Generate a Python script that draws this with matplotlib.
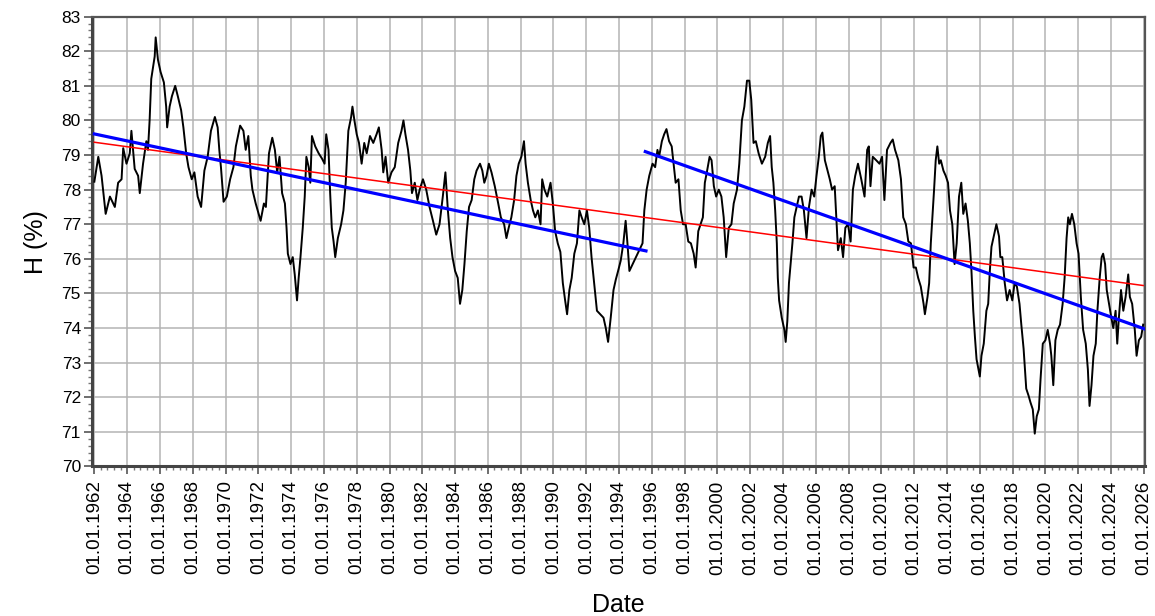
import matplotlib
matplotlib.use("Agg")
import matplotlib.pyplot as plt
from matplotlib.ticker import MultipleLocator, FuncFormatter

plt.rcParams['font.family'] = ['Liberation Sans', 'DejaVu Sans']

# ---- data (decimal year, H %) ----
years = [
    1962.00, 1962.24, 1962.44, 1962.69, 1962.95, 1963.25, 1963.45, 1963.66, 1963.76, 1963.96,
    1964.16, 1964.26, 1964.46, 1964.67, 1964.77, 1964.97, 1965.17, 1965.27, 1965.37, 1965.47,
    1965.68, 1965.74, 1965.88, 1966.04, 1966.24, 1966.38, 1966.44, 1966.59, 1966.73, 1966.93,
    1967.09, 1967.29, 1967.43, 1967.60, 1967.74, 1967.94, 1968.10, 1968.30, 1968.51, 1968.71,
    1968.91, 1969.11, 1969.35, 1969.52, 1969.62, 1969.72, 1969.88, 1970.08, 1970.28, 1970.48,
    1970.63, 1970.89, 1971.09, 1971.23, 1971.39, 1971.54, 1971.64, 1971.84, 1972.14, 1972.34,
    1972.46, 1972.65, 1972.85, 1973.01, 1973.15, 1973.29, 1973.45, 1973.62, 1973.72, 1973.80,
    1973.96, 1974.10, 1974.22, 1974.36, 1974.46, 1974.57, 1974.71, 1974.83, 1974.93, 1975.07,
    1975.17, 1975.27, 1975.47, 1975.68, 1975.88, 1976.04, 1976.14, 1976.28, 1976.38, 1976.48,
    1976.59, 1976.69, 1976.85, 1977.05, 1977.19, 1977.33, 1977.43, 1977.49, 1977.66, 1977.74,
    1977.86, 1978.00, 1978.14, 1978.30, 1978.46, 1978.61, 1978.81, 1979.01, 1979.21, 1979.35,
    1979.52, 1979.62, 1979.76, 1979.92, 1980.12, 1980.32, 1980.53, 1980.73, 1980.85, 1980.97,
    1981.13, 1981.27, 1981.37, 1981.54, 1981.70, 1981.84, 1982.04, 1982.24, 1982.44, 1982.65,
    1982.85, 1983.05, 1983.25, 1983.41, 1983.56, 1983.70, 1983.84, 1984.00, 1984.16, 1984.30,
    1984.44, 1984.57, 1984.71, 1984.85, 1985.01, 1985.17, 1985.31, 1985.52, 1985.66, 1985.78,
    1985.92, 1986.06, 1986.22, 1986.42, 1986.63, 1986.79, 1986.99, 1987.13, 1987.27, 1987.43,
    1987.60, 1987.74, 1987.88, 1988.04, 1988.20, 1988.30, 1988.44, 1988.61, 1988.75, 1988.89,
    1989.05, 1989.21, 1989.31, 1989.45, 1989.62, 1989.82, 1989.96, 1990.10, 1990.26, 1990.42,
    1990.57, 1990.71, 1990.83, 1990.97, 1991.11, 1991.27, 1991.43, 1991.58, 1991.72, 1991.88,
    1992.04, 1992.18, 1992.32, 1992.48, 1992.65, 1992.85, 1993.05, 1993.19, 1993.33, 1993.49,
    1993.66, 1993.80, 1993.94, 1994.10, 1994.26, 1994.40, 1994.51, 1994.63, 1994.83, 1995.03,
    1995.23, 1995.43, 1995.54, 1995.68, 1995.84, 1996.04, 1996.20, 1996.34, 1996.44, 1996.61,
    1996.75, 1996.89, 1997.05, 1997.21, 1997.35, 1997.45, 1997.62, 1997.76, 1997.90, 1998.06,
    1998.22, 1998.38, 1998.55, 1998.67, 1998.83, 1998.97, 1999.11, 1999.23, 1999.37, 1999.52,
    1999.64, 1999.78, 1999.92, 2000.08, 2000.24, 2000.38, 2000.53, 2000.69, 2000.85, 2000.99,
    2001.19, 2001.33, 2001.49, 2001.64, 2001.80, 2001.94, 2002.06, 2002.20, 2002.34, 2002.51,
    2002.71, 2002.91, 2003.07, 2003.21, 2003.31, 2003.41, 2003.52, 2003.62, 2003.68, 2003.76,
    2003.92, 2004.08, 2004.16, 2004.26, 2004.36, 2004.46, 2004.57, 2004.69, 2004.83, 2004.97,
    2005.13, 2005.27, 2005.43, 2005.58, 2005.74, 2005.90, 2006.04, 2006.18, 2006.30, 2006.40,
    2006.55, 2006.71, 2006.85, 2006.99, 2007.15, 2007.25, 2007.35, 2007.52, 2007.66, 2007.80,
    2007.96, 2008.12, 2008.26, 2008.40, 2008.57, 2008.77, 2008.97, 2009.13, 2009.23, 2009.33,
    2009.47, 2009.68, 2009.88, 2010.04, 2010.18, 2010.34, 2010.55, 2010.69, 2010.83, 2011.03,
    2011.19, 2011.33, 2011.49, 2011.64, 2011.80, 2011.96, 2012.10, 2012.24, 2012.40, 2012.57,
    2012.65, 2012.81, 2012.91, 2013.01, 2013.11, 2013.21, 2013.31, 2013.41, 2013.52, 2013.62,
    2013.78, 2013.92, 2014.06, 2014.18, 2014.32, 2014.46, 2014.59, 2014.73, 2014.87, 2014.99,
    2015.13, 2015.27, 2015.39, 2015.49, 2015.60, 2015.70, 2015.80, 2016.00, 2016.10, 2016.24,
    2016.40, 2016.51, 2016.61, 2016.71, 2016.85, 2017.01, 2017.17, 2017.25, 2017.37, 2017.52,
    2017.66, 2017.82, 2017.98, 2018.12, 2018.26, 2018.42, 2018.53, 2018.67, 2018.83, 2018.97,
    2019.09, 2019.23, 2019.35, 2019.47, 2019.60, 2019.70, 2019.84, 2020.00, 2020.14, 2020.28,
    2020.36, 2020.48, 2020.61, 2020.75, 2020.89, 2021.05, 2021.17, 2021.29, 2021.39, 2021.49,
    2021.62, 2021.76, 2021.90, 2022.02, 2022.16, 2022.30, 2022.46, 2022.59, 2022.69, 2022.81,
    2022.93, 2023.07, 2023.17, 2023.31, 2023.43, 2023.52, 2023.64, 2023.74, 2023.88, 2024.02,
    2024.14, 2024.28, 2024.38, 2024.48, 2024.61, 2024.75, 2024.89, 2025.05, 2025.15, 2025.29,
    2025.45, 2025.56, 2025.70, 2025.84, 2025.96,
]
humidity = [
    78.23, 78.95, 78.40, 77.30, 77.80, 77.50, 78.20, 78.30, 79.20, 78.75,
    79.05, 79.70, 78.60, 78.40, 77.90, 78.75, 79.40, 79.15, 80.00, 81.20,
    81.85, 82.40, 81.75, 81.40, 81.10, 80.40, 79.80, 80.40, 80.70, 81.00,
    80.70, 80.30, 79.80, 79.05, 78.65, 78.30, 78.50, 77.80, 77.50, 78.55,
    78.95, 79.70, 80.10, 79.80, 79.15, 78.65, 77.65, 77.80, 78.30, 78.65,
    79.25, 79.85, 79.70, 79.15, 79.55, 78.40, 78.00, 77.60, 77.10, 77.60,
    77.50, 79.05, 79.50, 79.15, 78.50, 78.95, 77.90, 77.60, 76.90, 76.15,
    75.85, 76.05, 75.55, 74.80, 75.45, 76.05, 76.90, 77.80, 78.95, 78.65,
    78.20, 79.55, 79.25, 79.05, 78.90, 78.75, 79.60, 79.15, 77.90, 76.90,
    76.50, 76.05, 76.60, 77.00, 77.40, 78.20, 79.15, 79.70, 80.10, 80.40,
    80.00, 79.60, 79.35, 78.75, 79.35, 79.05, 79.55, 79.35, 79.60, 79.80,
    79.15, 78.50, 78.95, 78.20, 78.50, 78.65, 79.35, 79.70, 80.00, 79.60,
    79.15, 78.55, 77.90, 78.20, 77.70, 78.00, 78.30, 78.00, 77.50, 77.10,
    76.70, 77.00, 77.80, 78.50, 77.40, 76.60, 76.05, 75.65, 75.45, 74.70,
    75.10, 75.85, 76.80, 77.50, 77.70, 78.30, 78.55, 78.75, 78.55, 78.20,
    78.40, 78.75, 78.50, 78.10, 77.60, 77.20, 77.00, 76.60, 76.90, 77.20,
    77.70, 78.40, 78.75, 78.95, 79.40, 78.75, 78.20, 77.70, 77.40, 77.20,
    77.40, 77.00, 78.30, 78.00, 77.80, 78.20, 77.60, 76.80, 76.45, 76.20,
    75.30, 74.80, 74.40, 75.10, 75.45, 76.15, 76.45, 77.40, 77.20, 77.00,
    77.40, 76.90, 76.05, 75.30, 74.50, 74.40, 74.30, 74.00, 73.60, 74.30,
    75.10, 75.40, 75.65, 75.95, 76.45, 77.10, 76.45, 75.65, 75.85, 76.05,
    76.25, 76.45, 77.40, 78.00, 78.40, 78.75, 78.65, 79.15, 78.95, 79.40,
    79.60, 79.75, 79.40, 79.25, 78.65, 78.20, 78.30, 77.40, 77.00, 77.00,
    76.50, 76.45, 76.15, 75.75, 76.80, 77.00, 77.20, 78.20, 78.55, 78.95,
    78.85, 78.10, 77.80, 78.00, 77.80, 77.20, 76.05, 76.90, 77.00, 77.60,
    78.00, 78.75, 80.00, 80.40, 81.15, 81.15, 80.60, 79.35, 79.40, 79.05,
    78.75, 78.95, 79.35, 79.55, 78.65, 78.20, 77.40, 76.45, 75.45, 74.80,
    74.30, 73.95, 73.60, 74.20, 75.30, 75.85, 76.45, 77.20, 77.50, 77.80,
    77.80, 77.40, 76.60, 77.50, 78.00, 77.80, 78.40, 78.95, 79.55, 79.65,
    78.85, 78.55, 78.30, 78.00, 78.10, 77.20, 76.25, 76.60, 76.05, 76.90,
    77.00, 76.50, 78.00, 78.40, 78.75, 78.30, 77.80, 79.15, 79.25, 78.10,
    78.95, 78.85, 78.75, 78.95, 77.70, 79.15, 79.35, 79.45, 79.15, 78.85,
    78.30, 77.20, 77.00, 76.50, 76.45, 75.75, 75.75, 75.45, 75.20, 74.70,
    74.40, 74.90, 75.30, 76.45, 77.20, 78.00, 78.85, 79.25, 78.75, 78.85,
    78.55, 78.40, 78.20, 77.40, 77.00, 75.85, 76.45, 77.80, 78.20, 77.30,
    77.60, 77.10, 76.45, 75.65, 74.50, 73.75, 73.10, 72.60, 73.20, 73.55,
    74.50, 74.70, 75.65, 76.35, 76.65, 77.00, 76.65, 76.05, 76.05, 75.30,
    74.80, 75.10, 74.80, 75.30, 75.20, 74.70, 74.10, 73.40, 72.25, 72.05,
    71.85, 71.65, 70.95, 71.45, 71.65, 72.50, 73.55, 73.65, 73.95, 73.55,
    73.20, 72.35, 73.65, 73.95, 74.10, 74.70, 75.45, 76.60, 77.20, 77.00,
    77.30, 77.00, 76.45, 76.15, 74.90, 73.95, 73.55, 72.80, 71.75, 72.35,
    73.20, 73.55, 74.50, 75.45, 76.05, 76.15, 75.85, 75.10, 74.70, 74.30,
    74.00, 74.50, 73.55, 74.30, 75.10, 74.50, 74.90, 75.55, 74.90, 74.70,
    73.95, 73.20, 73.65, 73.75, 74.10,
]

# overall linear trend (red) and two period trends (blue)
trend_all_x = [1962.00, 2025.96]
trend_all_y = [79.37, 75.23]
trend_p1_x = [1962.00, 1995.64]
trend_p1_y = [79.61, 76.23]
trend_p2_x = [1995.60, 2026.02]
trend_p2_y = [79.10, 73.98]

x_tick_years = list(range(1962, 2027, 2))
y_ticks = list(range(70, 84))

fig = plt.figure(figsize=(11.55, 6.16), dpi=100)
ax = fig.add_axes([0.0797, 0.2427, 0.9116, 0.7303])

ax.plot(years, humidity, color='black', lw=1.4, zorder=3)
ax.plot(trend_all_x, trend_all_y, color='#ff0000', lw=1.1, zorder=4)
ax.plot(trend_p1_x, trend_p1_y, color='#0000ff', lw=2.3, zorder=5)
ax.plot(trend_p2_x, trend_p2_y, color='#0000ff', lw=2.3, zorder=5)

ax.set_xlim(1961.86, 2026.07)
ax.set_ylim(70, 83)
ax.set_xticks(x_tick_years)
ax.set_yticks(y_ticks)
ax.xaxis.set_minor_locator(MultipleLocator(0.4))
ax.yaxis.set_minor_locator(MultipleLocator(0.2))
ax.xaxis.set_major_formatter(FuncFormatter(lambda v, p: "01.01.%d" % round(v)))

ax.grid(True, which='major', color='#b4b4b4', lw=1.1, zorder=0)
ax.set_axisbelow(True)

for side in ['left', 'bottom']:
    ax.spines[side].set_linewidth(2.2)
    ax.spines[side].set_color('#444444')
for side in ['top', 'right']:
    ax.spines[side].set_linewidth(1.6)
    ax.spines[side].set_color('#555555')

ax.tick_params(axis='both', which='major', direction='out', length=6, width=1.2,
               color='#555555', labelsize=12.5)
ax.tick_params(axis='both', which='minor', direction='out', length=3, width=1.0,
               color='#777777')
ax.tick_params(axis='x', which='major', labelrotation=90, labelsize=13.5, pad=4)
ax.tick_params(axis='y', which='major', pad=2)

ax.set_xlabel('Date', fontsize=18, labelpad=13)
ax.set_ylabel('H (%)', fontsize=18, labelpad=10)

fig.savefig('out.png', dpi=100, facecolor='white')
